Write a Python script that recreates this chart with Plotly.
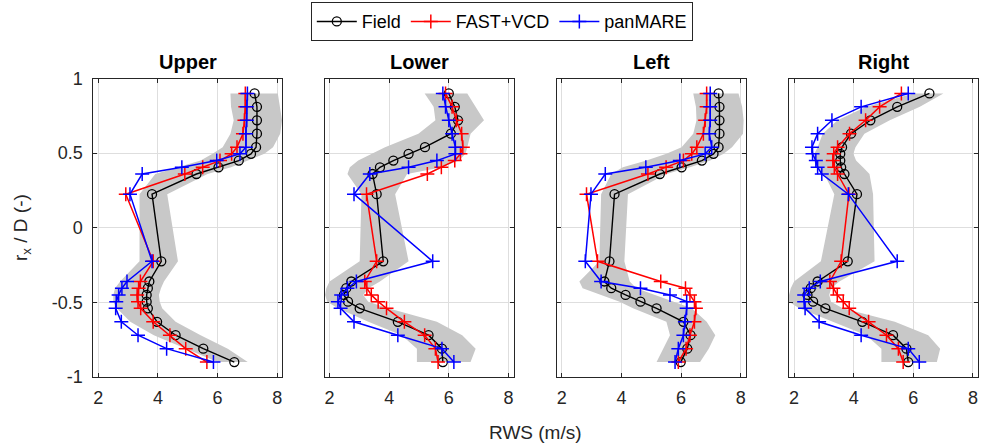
import plotly.graph_objects as go

# ---------------- data ----------------
heights = [0.9, 0.81, 0.72, 0.63, 0.54, 0.495, 0.45, 0.405, 0.36, 0.225,
           -0.225, -0.36, -0.405, -0.45, -0.495, -0.54, -0.63, -0.72, -0.81, -0.9]

panels = ["Upper", "Lower", "Left", "Right"]

field_upper = [7.24, 7.32, 7.32, 7.32, 7.29, 7.12, 6.71, 6.03, 5.29, 3.80,
               4.11, 3.71, 3.66, 3.62, 3.62, 3.66, 3.97, 4.59, 5.52, 6.56]
fast_upper = [6.93, 6.93, 6.90, 6.85, 6.65, 6.47, 6.08, 5.50, 4.90, 2.92,
              3.84, 3.41, 3.35, 3.30, 3.33, 3.42, 3.84, 4.40, 4.93, 5.64]
pan_upper = [7.00, 6.98, 6.98, 6.95, 6.95, 6.75, 5.97, 4.80, 3.47, 3.06,
             3.80, 2.96, 2.79, 2.68, 2.60, 2.58, 2.77, 3.33, 4.29, 5.86]
band_lo_upper = [6.43, 6.45, 6.54, 6.43, 6.17, 5.83, 5.43, 4.65, 3.91, 3.38,
                 3.38, 2.73, 2.56, 2.50, 2.50, 2.62, 3.07, 3.86, 4.95, 6.00]
band_hi_upper = [8.02, 8.08, 8.16, 8.10, 7.86, 7.57, 7.01, 6.45, 5.66, 4.31,
                 4.67, 4.20, 4.10, 4.03, 4.06, 4.14, 4.59, 5.43, 6.34, 7.01]

field_lower = [6.00, 6.20, 6.31, 6.07, 5.20, 4.65, 4.14, 3.69, 3.44, 3.58,
               3.80, 2.73, 2.56, 2.48, 2.62, 3.01, 4.29, 5.32, 5.77, 5.80]
fast_lower = [5.89, 6.11, 6.25, 6.43, 6.47, 6.39, 6.20, 5.75, 5.28, 3.24,
              3.58, 3.18, 3.25, 3.40, 3.63, 3.91, 4.51, 5.19, 5.55, 5.64]
pan_lower = [5.80, 5.89, 6.00, 6.11, 6.22, 6.22, 5.60, 4.65, 3.35, 2.82,
             5.46, 2.90, 2.60, 2.39, 2.28, 2.37, 2.82, 4.29, 5.77, 6.17]
band_lo_lower = [5.19, 5.49, 5.55, 4.98, 3.86, 3.41, 2.96, 2.68, 2.60, 3.07,
                 3.01, 2.00, 1.89, 1.85, 1.92, 2.28, 3.30, 4.42, 4.93, 4.93]
band_hi_lower = [6.62, 6.90, 7.18, 6.73, 6.62, 6.56, 6.34, 5.77, 4.60, 4.20,
                 4.65, 3.69, 3.30, 3.13, 3.30, 3.97, 5.60, 6.45, 6.90, 6.73]

field_left = [7.26, 7.29, 7.29, 7.29, 7.26, 7.09, 6.70, 6.02, 5.29, 3.77,
              3.60, 3.43, 3.66, 4.14, 4.64, 5.18, 6.08, 6.32, 6.21, 5.99]
fast_left = [6.86, 6.86, 6.81, 6.75, 6.53, 6.36, 6.08, 5.50, 4.89, 2.83,
             3.20, 5.32, 6.15, 6.30, 6.45, 6.50, 6.45, 6.30, 6.17, 5.91]
pan_left = [6.98, 6.98, 6.98, 6.95, 7.03, 6.81, 5.96, 4.82, 3.46, 2.98,
            2.79, 3.32, 4.64, 5.63, 6.19, 6.19, 6.13, 6.08, 5.91, 5.80]
band_lo_left = [6.41, 6.50, 6.52, 6.41, 6.02, 5.51, 4.84, 4.05, 3.66, 3.32,
                3.26, 2.59, 2.70, 3.32, 3.94, 4.39, 5.51, 5.63, 5.40, 5.18]
band_hi_left = [7.93, 8.05, 8.10, 8.08, 7.71, 7.43, 6.98, 6.30, 5.51, 4.22,
                4.10, 4.28, 4.50, 5.18, 5.74, 6.36, 6.86, 7.15, 6.93, 6.64]

field_right = [6.54, 5.46, 4.56, 3.91, 3.61, 3.55, 3.55, 3.58, 3.69, 4.11,
               3.80, 2.79, 2.56, 2.45, 2.64, 3.05, 4.29, 5.32, 5.77, 5.83]
fast_right = [5.60, 4.87, 4.40, 3.86, 3.46, 3.33, 3.30, 3.35, 3.46, 3.84,
              3.58, 3.20, 3.32, 3.45, 3.65, 3.85, 4.50, 5.10, 5.50, 5.66]
pan_right = [5.83, 4.25, 3.27, 2.79, 2.60, 2.62, 2.73, 2.79, 2.93, 3.82,
             5.46, 2.88, 2.51, 2.34, 2.34, 2.37, 2.84, 4.25, 5.83, 6.20]
band_lo_right = [6.00, 4.42, 3.46, 2.96, 2.79, 2.68, 2.68, 2.73, 3.01, 3.35,
                 2.90, 2.00, 1.89, 1.83, 1.83, 2.17, 3.30, 4.42, 4.93, 4.93]
band_hi_right = [7.01, 6.22, 5.21, 4.36, 4.06, 3.99, 4.08, 4.31, 4.53, 4.65,
                 4.70, 3.52, 3.24, 3.18, 3.24, 3.63, 5.38, 6.50, 6.90, 6.79]

x_ticks = [2, 4, 6, 8]
y_ticks = [-1, -0.5, 0, 0.5, 1]
y_ticklabels = ["-1", "-0.5", "0", "0.5", "1"]

series_names = ["Field", "FAST+VCD", "panMARE"]

data = {
    "Upper": (field_upper, fast_upper, pan_upper, band_lo_upper, band_hi_upper),
    "Lower": (field_lower, fast_lower, pan_lower, band_lo_lower, band_hi_lower),
    "Left": (field_left, fast_left, pan_left, band_lo_left, band_hi_left),
    "Right": (field_right, fast_right, pan_right, band_lo_right, band_hi_right),
}

# ---------------- figure ----------------
W, H = 982, 445
FONT = "Liberation Sans, Arial, sans-serif"
AX = "#262626"

box_left_px = [93.3, 324.5, 556.7, 789.0]
box_w_px = 189.0
y_top_px, y_bot_px = 78.5, 377.0

fig = go.Figure()

for i, name in enumerate(panels):
    field, fast, pan, lo, hi = data[name]
    xa = "x" if i == 0 else f"x{i+1}"
    ya = "y" if i == 0 else f"y{i+1}"
    # band
    fig.add_trace(go.Scatter(
        x=lo + hi[::-1], y=heights + heights[::-1],
        fill="toself", fillcolor="rgb(200,200,200)",
        line=dict(width=0), mode="lines", hoverinfo="skip",
        showlegend=False, xaxis=xa, yaxis=ya))
    fig.add_trace(go.Scatter(
        x=field, y=heights, mode="lines+markers", name=series_names[0],
        line=dict(color="black", width=1.4),
        marker=dict(symbol="circle-open", size=9, color="black",
                    line=dict(width=1.3, color="black")),
        showlegend=(i == 0), xaxis=xa, yaxis=ya))
    fig.add_trace(go.Scatter(
        x=fast, y=heights, mode="lines+markers", name=series_names[1],
        line=dict(color="rgb(255,0,0)", width=1.5),
        marker=dict(symbol="cross-thin", size=10, color="rgb(255,0,0)",
                    line=dict(width=1.5, color="rgb(255,0,0)")),
        showlegend=(i == 0), xaxis=xa, yaxis=ya))
    fig.add_trace(go.Scatter(
        x=pan, y=heights, mode="lines+markers", name=series_names[2],
        line=dict(color="rgb(0,0,255)", width=1.5),
        marker=dict(symbol="cross-thin", size=10, color="rgb(0,0,255)",
                    line=dict(width=1.5, color="rgb(0,0,255)")),
        showlegend=(i == 0), xaxis=xa, yaxis=ya))

layout = dict(
    width=W, height=H,
    margin=dict(l=0, r=0, t=0, b=0, autoexpand=False),
    paper_bgcolor="white", plot_bgcolor="white",
    font=dict(family=FONT, size=18, color=AX),
    showlegend=True,
    legend=dict(orientation="h", x=0.511, xanchor="center", y=0.995, yanchor="top",
                bordercolor=AX, borderwidth=1, bgcolor="white",
                font=dict(size=18, color="black"),
                itemwidth=40, tracegroupgap=0),
)

ydom = [1 - y_bot_px / H, 1 - y_top_px / H]
for i in range(4):
    sx = "" if i == 0 else str(i + 1)
    x0 = box_left_px[i] / W
    x1 = (box_left_px[i] + box_w_px) / W
    layout["xaxis" + sx] = dict(
        domain=[x0, x1], range=[1.83, 8.17], anchor="y" + sx,
        tickvals=x_ticks, ticktext=[str(v) for v in x_ticks],
        ticks="inside", ticklen=4, tickcolor=AX, showline=True, linecolor=AX,
        linewidth=1, mirror="ticks", showgrid=True, gridcolor="#dedede",
        gridwidth=1, zeroline=False, tickfont=dict(size=18, color=AX),
        ticklabelstandoff=4, automargin=False,
    )
    layout["yaxis" + sx] = dict(
        domain=ydom, range=[-1.0, 1.0], anchor="x" + sx,
        tickvals=y_ticks, ticktext=y_ticklabels, showticklabels=(i == 0),
        ticks="inside", ticklen=4, tickcolor=AX, showline=True, linecolor=AX,
        linewidth=1, mirror="ticks", showgrid=True, gridcolor="#dedede",
        gridwidth=1, zeroline=False, tickfont=dict(size=18, color=AX),
        ticklabelstandoff=6, automargin=False,
    )

annotations = []
for i, name in enumerate(panels):
    cx = (box_left_px[i] + box_w_px / 2) / W
    annotations.append(dict(
        text=f"<b>{name}</b>", x=cx, y=1 - 62 / H, xref="paper", yref="paper",
        showarrow=False, xanchor="center", yanchor="middle",
        font=dict(size=20, color="black", family=FONT)))
annotations.append(dict(
    text="RWS (m/s)", x=(box_left_px[0] + box_left_px[3] + box_w_px) / 2 / W,
    y=1 - 432 / H, xref="paper", yref="paper", showarrow=False,
    xanchor="center", yanchor="middle", font=dict(size=19, color=AX)))
annotations.append(dict(
    text="r<sub>x</sub> / D (-)", x=22 / W, y=1 - 228 / H, xref="paper",
    yref="paper", showarrow=False, textangle=-90, xanchor="center",
    yanchor="middle", font=dict(size=19, color=AX)))
layout["annotations"] = annotations

fig.update_layout(**layout)
fig.write_html(
    "out.html",
    config={"displayModeBar": False},
    post_script="document.body.style.margin='0';document.body.style.overflow='hidden';",
)
